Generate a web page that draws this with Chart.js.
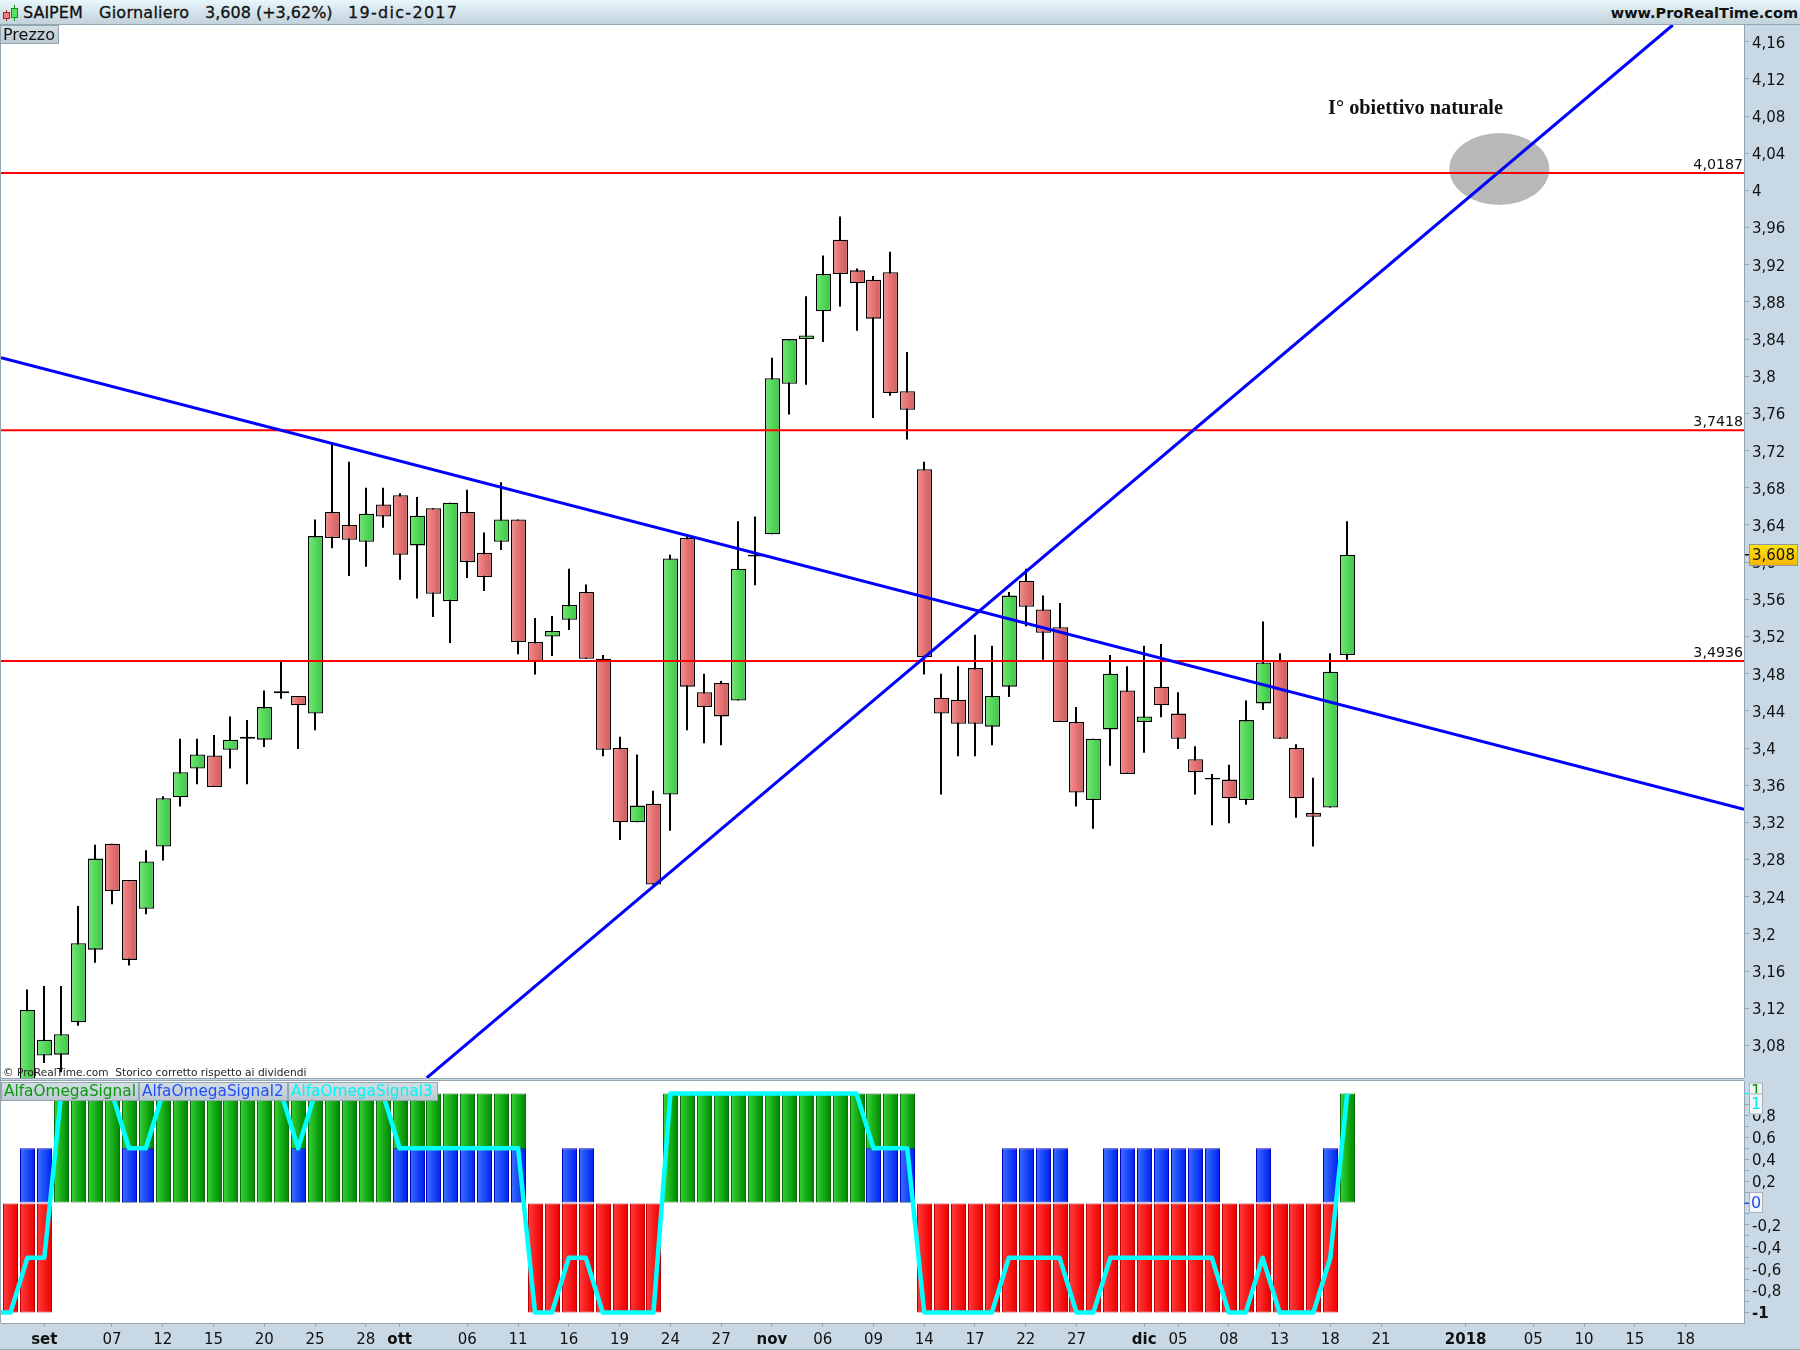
<!DOCTYPE html>
<html>
<head>
<meta charset="utf-8">
<title>SAIPEM</title>
<script src="https://cdn.jsdelivr.net/npm/chart.js@4"></script>
<style>
html, body { margin: 0; padding: 0; background: #c8d9e5; }
#page { position: relative; width: 1800px; height: 1350px; overflow: hidden; background: #c8d9e5; font-family: "DejaVu Sans", sans-serif; color: #111; }
#page div, #page canvas { position: absolute; }
#head { left: 0; top: 0; width: 1800px; height: 24px; background: linear-gradient(#e8f7fc, #c2d2db); border-bottom: 1px solid #93a5b0; }
.t { top: 3px; font-size: 16px; line-height: 20px; white-space: nowrap; -webkit-text-stroke: 0.3px #111; }
.tag { box-sizing: border-box; background: linear-gradient(#d2dde4, #bcc9d1); border: 1px solid #93a5b0; white-space: nowrap; }
</style>
</head>
<body>
<div id="page">
  <canvas id="priceChart" width="1800" height="1053" style="left:0;top:25px"></canvas>
  <canvas id="signalChart" width="1800" height="269" style="left:0;top:1081px"></canvas>

  <div id="head"></div>
  <div style="left:6px;top:10px;width:1px;height:11px;background:#b02020"></div>
  <div style="left:3px;top:12px;width:7px;height:7px;background:#f08080;border:1px solid #b02020;box-sizing:border-box"></div>
  <div style="left:14px;top:5px;width:1px;height:16px;background:#109010"></div>
  <div style="left:11px;top:8px;width:7px;height:10px;background:#60e060;border:1px solid #109010;box-sizing:border-box"></div>
  <div class="t" style="left:23px">SAIPEM</div>
  <div class="t" style="left:99px;letter-spacing:0.25px">Giornaliero</div>
  <div class="t" style="left:205px">3,608 (+3,62%)</div>
  <div class="t" style="left:348px;letter-spacing:1.3px">19-dic-2017</div>
  <div class="t" style="right:2px;font-size:14.5px;font-weight:bold;-webkit-text-stroke:0">www.ProRealTime.com</div>

  <div class="tag" style="left:0;top:25px;width:59px;height:19px;font-size:16px;line-height:17px;padding-left:2px">Prezzo</div>
  <div style="left:3px;top:1065px;font-size:10.6px;line-height:14px;white-space:nowrap;color:#222">© ProRealTime.com&nbsp; Storico corretto rispetto ai dividendi</div>

  <div style="left:0;top:1078px;width:1744px;height:3px;box-sizing:border-box;background:#c8d9e5;border-top:1px solid #93a5b0;border-bottom:1px solid #93a5b0"></div>
  <div class="tag" style="left:1px;top:1082px;width:138px;height:19px;font-size:15.3px;line-height:17px;padding-left:2px;color:#0a9a0a">AlfaOmegaSignal</div>
  <div class="tag" style="left:139px;top:1082px;width:149px;height:19px;font-size:15.3px;line-height:17px;padding-left:2px;color:#1f4eff">AlfaOmegaSignal2</div>
  <div class="tag" style="left:288px;top:1082px;width:150px;height:19px;font-size:15.3px;line-height:17px;padding-left:2px;color:#00f5f5">AlfaOmegaSignal3</div>

  <div style="left:0;top:25px;width:1px;height:1298px;background:#93a5b0"></div>
  <div style="left:0;top:1349px;width:1800px;height:1px;background:#93a5b0"></div>
</div>

<script>
// Prezzi giornalieri SAIPEM (indice 0 = fuori scala)
const candleOpen = [null, 3.037, 3.069, 3.070, 3.105, 3.183, 3.297, 3.258, 3.227, 3.294,
    3.347, 3.378, 3.392, 3.398, 3.412, 3.409, 3.461, 3.456, 3.437, 3.654,
    3.640, 3.622, 3.662, 3.672, 3.618, 3.658, 3.558, 3.654, 3.610, 3.622,
    3.646, 3.514, 3.520, 3.538, 3.568, 3.496, 3.400, 3.320, 3.340, 3.350,
    3.626, 3.460, 3.470, 3.451, 3.608, 3.630, 3.792, 3.840, 3.870, 3.947,
    3.914, 3.904, 3.912, 3.784, 3.700, 3.454, 3.452, 3.486, 3.423, 3.466,
    3.580, 3.549, 3.530, 3.428, 3.344, 3.420, 3.462, 3.428, 3.466, 3.437,
    3.388, 3.368, 3.366, 3.344, 3.448, 3.494, 3.400, 3.330, 3.336, 3.500];
const candleClose = [null, 3.118, 3.086, 3.092, 3.190, 3.281, 3.246, 3.172, 3.278, 3.346,
    3.374, 3.393, 3.358, 3.409, 3.410, 3.444, 3.459, 3.446, 3.628, 3.626,
    3.624, 3.652, 3.649, 3.608, 3.650, 3.566, 3.664, 3.600, 3.584, 3.646,
    3.514, 3.493, 3.526, 3.554, 3.496, 3.398, 3.320, 3.338, 3.253, 3.604,
    3.466, 3.444, 3.434, 3.593, 3.606, 3.798, 3.840, 3.844, 3.910, 3.910,
    3.900, 3.862, 3.782, 3.764, 3.498, 3.437, 3.426, 3.426, 3.456, 3.564,
    3.552, 3.524, 3.428, 3.352, 3.410, 3.480, 3.372, 3.434, 3.446, 3.410,
    3.374, 3.366, 3.346, 3.430, 3.492, 3.410, 3.346, 3.326, 3.482, 3.608];
const candleHigh = [null, 3.140, 3.144, 3.144, 3.230, 3.296, 3.297, 3.258, 3.290, 3.348,
    3.410, 3.410, 3.414, 3.434, 3.430, 3.462, 3.493, 3.456, 3.646, 3.727,
    3.708, 3.680, 3.680, 3.674, 3.670, 3.658, 3.664, 3.678, 3.632, 3.686,
    3.646, 3.540, 3.542, 3.593, 3.576, 3.500, 3.412, 3.393, 3.354, 3.608,
    3.627, 3.480, 3.472, 3.644, 3.649, 3.820, 3.840, 3.886, 3.930, 3.972,
    3.916, 3.908, 3.934, 3.826, 3.708, 3.480, 3.488, 3.522, 3.510, 3.568,
    3.593, 3.564, 3.556, 3.444, 3.410, 3.500, 3.488, 3.510, 3.512, 3.460,
    3.402, 3.372, 3.382, 3.451, 3.536, 3.502, 3.404, 3.368, 3.502, 3.644];
const candleLow = [null, 3.027, 3.061, 3.051, 3.101, 3.169, 3.232, 3.166, 3.221, 3.279,
    3.337, 3.361, 3.358, 3.378, 3.361, 3.401, 3.453, 3.399, 3.419, 3.615,
    3.585, 3.595, 3.637, 3.581, 3.561, 3.541, 3.513, 3.583, 3.569, 3.613,
    3.501, 3.479, 3.499, 3.527, 3.496, 3.391, 3.301, 3.320, 3.253, 3.311,
    3.419, 3.405, 3.403, 3.451, 3.575, 3.630, 3.759, 3.791, 3.837, 3.875,
    3.849, 3.755, 3.779, 3.732, 3.479, 3.350, 3.391, 3.391, 3.403, 3.455,
    3.531, 3.495, 3.428, 3.337, 3.313, 3.381, 3.372, 3.395, 3.433, 3.399,
    3.350, 3.317, 3.319, 3.339, 3.441, 3.410, 3.325, 3.294, 3.336, 3.495];

const signal1 = [-1, -1, -1, 1, 1, 1, 1, 1, 1, 1,
    1, 1, 1, 1, 1, 1, 1, 1, 1, 1,
    1, 1, 1, 1, 1, 1, 1, 1, 1, 1,
    1, -1, -1, -1, -1, -1, -1, -1, -1, 1,
    1, 1, 1, 1, 1, 1, 1, 1, 1, 1,
    1, 1, 1, 1, -1, -1, -1, -1, -1, -1,
    -1, -1, -1, -1, -1, -1, -1, -1, -1, -1,
    -1, -1, -1, -1, -1, -1, -1, -1, -1, 1];
const signal2 = [0, 0.5, 0.5, 0, 0, 0, 0, 0.5, 0.5, 0,
    0, 0, 0, 0, 0, 0, 0, 0.5, 0, 0,
    0, 0, 0, 0.5, 0.5, 0.5, 0.5, 0.5, 0.5, 0.5,
    0.5, 0, 0, 0.5, 0.5, 0, 0, 0, 0, 0,
    0, 0, 0, 0, 0, 0, 0, 0, 0, 0,
    0, 0.5, 0.5, 0.5, 0, 0, 0, 0, 0, 0.5,
    0.5, 0.5, 0.5, 0, 0, 0.5, 0.5, 0.5, 0.5, 0.5,
    0.5, 0.5, 0, 0, 0.5, 0, 0, 0, 0.5, 0];
const signal3 = [-1, -0.5, -0.5, 1, 1, 1, 1, 0.5, 0.5, 1,
    1, 1, 1, 1, 1, 1, 1, 0.5, 1, 1,
    1, 1, 1, 0.5, 0.5, 0.5, 0.5, 0.5, 0.5, 0.5,
    0.5, -1, -1, -0.5, -0.5, -1, -1, -1, -1, 1,
    1, 1, 1, 1, 1, 1, 1, 1, 1, 1,
    1, 0.5, 0.5, 0.5, -1, -1, -1, -1, -1, -0.5,
    -0.5, -0.5, -0.5, -1, -1, -0.5, -0.5, -0.5, -0.5, -0.5,
    -0.5, -0.5, -1, -1, -0.5, -1, -1, -1, -0.5, 1];

// Livelli orizzontali e trendline
const levels = [4.0187, 3.7418, 3.4936];
const trendDownX = [-0.56, 102.45];
const trendDownY = [3.820, 3.334];
const trendUpX = [24.6, 98.24];
const trendUpY = [3.045, 4.178];
const lastPrice = 3.608;

// Assi
const priceTicks = [3.08, 3.12, 3.16, 3.2, 3.24, 3.28, 3.32, 3.36, 3.4, 3.44, 3.48, 3.52, 3.56, 3.6,
    3.64, 3.68, 3.72, 3.76, 3.8, 3.84, 3.88, 3.92, 3.96, 4, 4.04, 4.08, 4.12, 4.16];
const signalTicks = [1, 0.9, 0.8, 0.7, 0.6, 0.5, 0.4, 0.3, 0.2, 0.1, 0, -0.1, -0.2, -0.3, -0.4, -0.5, -0.6, -0.7, -0.8, -0.9, -1];
const dateTicks = [2, 6, 9, 12, 15, 18, 21, 23, 27, 30, 33, 36, 39, 42, 45, 48, 51, 54, 57, 60, 63, 67, 69, 72, 75, 78, 81, 86, 90, 93, 96, 99];
const dateLabels = ['set', '07', '12', '15', '20', '25', '28', 'ott', '06', '11', '16', '19', '24', '27', 'nov', '06', '09', '14', '17', '22', '27', 'dic', '05', '08', '13', '18', '21', '2018', '05', '10', '15', '18'];
const boldDates = ['set', 'ott', 'nov', 'dic', '2018'];

const FONT = '"DejaVu Sans", sans-serif';
const AXIS_COLOR = '#93a5b0';
const xMin = -0.56;
const xMax = 102.45;

function comma(v) {
    return String(v).replace('.', ',');
}

// riempimento a gradiente orizzontale per ogni barra
function barFill(ctx, left, right, half) {
    const scale = ctx.chart.scales.x;
    if (!ctx.chart.chartArea || !ctx.parsed) return left;
    const px = scale.getPixelForValue(ctx.parsed.x);
    const g = ctx.chart.ctx.createLinearGradient(px - half, 0, px + half, 0);
    g.addColorStop(0, left);
    g.addColorStop(1, right);
    return g;
}

// fondo bianco dell'area del grafico
const whiteArea = {
    id: 'whiteArea',
    beforeDraw(chart) {
        const a = chart.chartArea;
        chart.ctx.fillStyle = '#fff';
        chart.ctx.fillRect(a.left, a.top, a.right - a.left, a.bottom - a.top);
    }
};

// barre allineate al pixel, come nel grafico originale
const crispBars = {
    id: 'crispBars',
    afterDatasetsUpdate(chart) {
        chart.getSortedVisibleDatasetMetas().forEach(meta => {
            if (meta.type !== 'bar') return;
            meta.data.forEach(el => {
                el.x = Math.round(el.x) + (el.width % 2 ? 0.5 : 0);
            });
        });
    }
};

// ellisse grigia sotto le linee
const targetEllipse = {
    id: 'targetEllipse',
    beforeDatasetsDraw(chart) {
        const { x, y } = chart.scales;
        const c = chart.ctx;
        const rx = x.getPixelForValue(87.99 + 2.955) - x.getPixelForValue(87.99);
        const ry = y.getPixelForValue(4.023) - y.getPixelForValue(4.023 + 0.0387);
        c.save();
        c.fillStyle = '#b8b8b8';
        c.beginPath();
        c.ellipse(x.getPixelForValue(87.99), y.getPixelForValue(4.023), rx, ry, 0, 0, Math.PI * 2);
        c.fill();
        c.restore();
    }
};

// testi dentro il grafico ed etichetta gialla dell'ultimo prezzo
const priceNotes = {
    id: 'priceNotes',
    afterDraw(chart) {
        const { x, y } = chart.scales;
        const a = chart.chartArea;
        const c = chart.ctx;
        c.save();
        c.fillStyle = '#111';
        c.font = '14.2px ' + FONT;
        c.textAlign = 'right';
        c.textBaseline = 'bottom';
        levels.forEach(v => {
            c.fillText(v.toFixed(4).replace('.', ','), a.right - 1, y.getPixelForValue(v) - 1);
        });
        c.font = 'bold 20.3px "Liberation Serif", serif';
        c.textAlign = 'left';
        c.textBaseline = 'middle';
        c.fillText('I° obiettivo naturale', x.getPixelForValue(77.87), y.getPixelForValue(4.0875));

        const py = Math.round(y.getPixelForValue(lastPrice));
        c.fillStyle = '#111';
        c.fillRect(a.right + 1, py - 1, 4, 1.5);
        const g = c.createLinearGradient(0, py - 11, 0, py + 11);
        g.addColorStop(0, '#ffe414');
        g.addColorStop(1, '#f4b400');
        c.fillStyle = g;
        c.fillRect(a.right + 5, py - 11, 49, 22);
        c.strokeStyle = '#8c9aa0';
        c.strokeRect(a.right + 5.5, py - 10.5, 48, 21);
        c.fillStyle = '#111';
        c.font = '15px ' + FONT;
        c.fillText(comma(lastPrice), a.right + 8, py + 1);
        c.restore();
    }
};

// riquadri dell'ultimo valore sull'asse del pannello inferiore
const signalBoxes = {
    id: 'signalBoxes',
    afterDraw(chart) {
        const { y } = chart.scales;
        const a = chart.chartArea;
        const c = chart.ctx;
        function box(value, color, top, h) {
            const py = y.getPixelForValue(value) + top;
            c.fillStyle = color;
            c.fillRect(a.right, Math.round(y.getPixelForValue(value)), 5, 1);
            c.fillStyle = '#f3f5f6';
            c.fillRect(a.right + 5, py, 14, h);
            c.strokeStyle = '#a5b2ba';
            c.strokeRect(a.right + 5.5, py + 0.5, 13, h - 1);
            c.fillStyle = color;
            c.font = '16px ' + FONT;
            c.textAlign = 'center';
            c.textBaseline = 'middle';
            c.fillText(comma(value), a.right + 12, py + h / 2 + 1);
        }
        c.save();
        box(signal1[79], '#0a9a0a', -11, 16);
        box(signal3[79], '#00f0f0', 0, 21);
        box(0, '#1f4eff', -11, 21);
        c.restore();
    }
};

const candleIdx = candleOpen.map((v, i) => i).filter(i => candleOpen[i] !== null);

new Chart(document.getElementById('priceChart'), {
    type: 'bar',
    data: {
        datasets: [
            {
                label: 'Ombre',
                order: 6,
                grouped: false,
                barThickness: 2,
                backgroundColor: '#000',
                borderWidth: 0,
                inflateAmount: 0,
                data: candleIdx.map(i => ({ x: i, y: [candleLow[i], candleHigh[i]] }))
            },
            {
                label: 'Prezzo',
                order: 5,
                grouped: false,
                barThickness: 15,
                borderColor: '#000',
                borderWidth: 1.3,
                borderSkipped: false,
                inflateAmount: 0,
                backgroundColor: ctx => {
                    const up = ctx.raw && ctx.raw.y[1] >= ctx.raw.y[0];
                    return up ? barFill(ctx, '#6fea6f', '#3ec74a', 7) : barFill(ctx, '#f78c8c', '#d25c5c', 7);
                },
                data: candleIdx.map(i => ({ x: i, y: [candleOpen[i], candleClose[i]] }))
            },
            ...levels.map(v => ({
                type: 'line',
                label: comma(v),
                order: 3,
                borderColor: '#ff0000',
                borderWidth: 2,
                pointRadius: 0,
                data: [{ x: xMin, y: v }, { x: xMax, y: v }]
            })),
            {
                type: 'line',
                label: 'Trendline ribassista',
                order: 2,
                borderColor: '#0000ff',
                borderWidth: 3,
                pointRadius: 0,
                data: trendDownX.map((x, i) => ({ x: x, y: trendDownY[i] }))
            },
            {
                type: 'line',
                label: 'Trendline rialzista',
                order: 2,
                borderColor: '#0000ff',
                borderWidth: 3,
                pointRadius: 0,
                data: trendUpX.map((x, i) => ({ x: x, y: trendUpY[i] }))
            }
        ]
    },
    options: {
        responsive: false,
        animation: false,
        devicePixelRatio: 1,
        layout: { padding: { left: 1, top: 0, right: 0, bottom: 0 } },
        plugins: { legend: { display: false }, tooltip: { enabled: false } },
        scales: {
            x: { type: 'linear', display: false, offset: false, min: xMin, max: xMax },
            y: {
                position: 'right',
                min: 3.0449,
                max: 4.178,
                afterBuildTicks: s => { s.ticks = priceTicks.map(v => ({ value: v })); },
                afterFit: s => { s.width = 56; s.paddingTop = 0; s.paddingBottom = 0; },
                border: { display: true, color: AXIS_COLOR, width: 1 },
                grid: { drawOnChartArea: false, drawTicks: true, tickLength: 5, color: AXIS_COLOR },
                ticks: {
                    color: '#111',
                    padding: 3,
                    labelOffset: 2,
                    font: { family: FONT, size: 15 },
                    autoSkip: false,
                    callback: v => comma(v)
                }
            }
        }
    },
    plugins: [whiteArea, crispBars, targetEllipse, priceNotes]
});

new Chart(document.getElementById('signalChart'), {
    type: 'bar',
    data: {
        datasets: [
            {
                label: 'AlfaOmegaSignal',
                order: 3,
                grouped: false,
                barThickness: 15,
                borderWidth: 1,
                borderSkipped: false,
                inflateAmount: 0,
                borderColor: ctx => (ctx.raw && ctx.raw.y > 0 ? '#0b6e0b' : '#c00000'),
                backgroundColor: ctx => (ctx.raw && ctx.raw.y > 0
                    ? barFill(ctx, '#35d435', '#008a00', 7)
                    : barFill(ctx, '#ff3c3c', '#f00000', 7)),
                data: signal1.map((v, i) => ({ x: i, y: v }))
            },
            {
                label: 'AlfaOmegaSignal2',
                order: 2,
                grouped: false,
                barThickness: 15,
                borderWidth: 1,
                borderSkipped: false,
                inflateAmount: 0,
                borderColor: '#0000c8',
                backgroundColor: ctx => barFill(ctx, '#3c70ff', '#0024f0', 7),
                data: signal2.map((v, i) => ({ x: i, y: v })).filter(p => p.y > 0)
            },
            {
                type: 'line',
                label: 'AlfaOmegaSignal3',
                order: 1,
                borderColor: '#00ffff',
                borderWidth: 4.5,
                pointRadius: 0,
                tension: 0,
                borderJoinStyle: 'round',
                data: [{ x: -1, y: -1 }].concat(signal3.map((v, i) => ({ x: i, y: v })))
            }
        ]
    },
    options: {
        responsive: false,
        animation: false,
        devicePixelRatio: 1,
        layout: { padding: { left: 1, top: 0, right: 0, bottom: 0 } },
        plugins: { legend: { display: false }, tooltip: { enabled: false } },
        scales: {
            x: {
                type: 'linear',
                offset: false,
                min: xMin,
                max: xMax,
                afterBuildTicks: s => { s.ticks = dateTicks.map(v => ({ value: v })); },
                afterFit: s => { s.height = 27; s.paddingLeft = 0; s.paddingRight = 0; },
                border: { display: true, color: AXIS_COLOR, width: 1 },
                grid: { offset: false, drawOnChartArea: false, drawTicks: true, tickLength: 4, color: AXIS_COLOR },
                ticks: {
                    color: '#111',
                    padding: 4,
                    autoSkip: false,
                    maxRotation: 0,
                    minRotation: 0,
                    font: ctx => ({
                        family: FONT,
                        size: 15,
                        weight: boldDates.includes(dateLabels[ctx.index]) ? 'bold' : 'normal'
                    }),
                    callback: (v, i) => dateLabels[i]
                }
            },
            y: {
                position: 'right',
                min: -1.096,
                max: 1.114,
                afterBuildTicks: s => { s.ticks = signalTicks.map(v => ({ value: v })); },
                afterFit: s => { s.width = 56; s.paddingTop = 0; s.paddingBottom = 0; },
                border: { display: true, color: AXIS_COLOR, width: 1 },
                grid: { drawOnChartArea: false, drawTicks: true, tickLength: 5, color: AXIS_COLOR },
                ticks: {
                    color: '#111',
                    padding: 3,
                    labelOffset: 2,
                    autoSkip: false,
                    font: ctx => ({
                        family: FONT,
                        size: 15,
                        weight: signalTicks[ctx.index] === -1 ? 'bold' : 'normal'
                    }),
                    callback: (v, i) => {
                        const t = signalTicks[i];
                        if (t === 0 || t === 1) return '';
                        return Math.round(t * 10) % 2 === 0 ? comma(t) : '';
                    }
                }
            }
        }
    },
    plugins: [whiteArea, crispBars, signalBoxes]
});
</script>
</body>
</html>
